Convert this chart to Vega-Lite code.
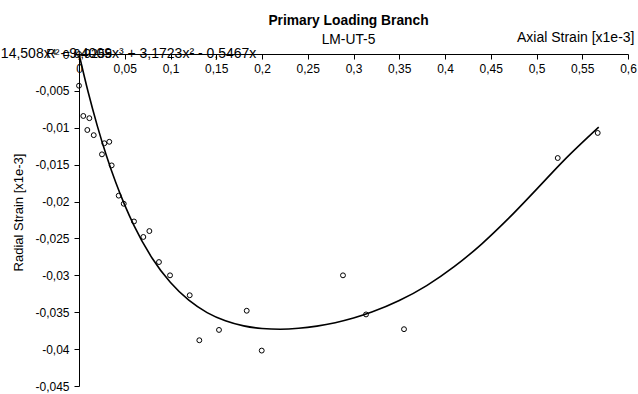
{
  "$schema": "https://vega.github.io/schema/vega-lite/v6.json",
  "width": 549,
  "height": 332,
  "autosize": {"type": "none"},
  "padding": {"left": 79, "top": 54, "right": 10, "bottom": 8},
  "background": "white",
  "title": {
    "text": "Primary Loading Branch",
    "subtitle": "LM-UT-5",
    "anchor": "middle",
    "frame": "group",
    "dx": -5,
    "offset": -17,
    "font": "Liberation Sans",
    "fontSize": 13.8,
    "fontWeight": "bold",
    "color": "black",
    "subtitleFont": "Liberation Sans",
    "subtitleFontSize": 13.8,
    "subtitleColor": "black",
    "subtitlePadding": 5
  },
  "config": {
    "locale": {
      "number": {
        "decimal": ",",
        "thousands": ".",
        "grouping": [3],
        "currency": ["", " €"],
        "minus": "-"
      }
    },
    "view": {"stroke": null},
    "axis": {
      "grid": false,
      "domainColor": "black",
      "domainWidth": 1,
      "tickColor": "black",
      "tickSize": 5,
      "tickWidth": 1,
      "labelColor": "black",
      "labelFont": "Liberation Sans",
      "labelFontSize": 12,
      "labelOverlap": false,
      "labelFlush": false,
      "titleColor": "black",
      "titleFont": "Liberation Sans",
      "titleFontSize": 14,
      "titleFontWeight": "normal"
    }
  },
  "datasets": {
    "measured": [
      {"axial": 0.0, "radial": 0.0},
      {"axial": 0.0, "radial": -0.0043},
      {"axial": 0.0047, "radial": -0.0084},
      {"axial": 0.0113, "radial": -0.0087},
      {"axial": 0.0091, "radial": -0.0103},
      {"axial": 0.0161, "radial": -0.011},
      {"axial": 0.0277, "radial": -0.0121},
      {"axial": 0.0331, "radial": -0.0119},
      {"axial": 0.0251, "radial": -0.0136},
      {"axial": 0.0357, "radial": -0.0151},
      {"axial": 0.0434, "radial": -0.0192},
      {"axial": 0.0489, "radial": -0.0203},
      {"axial": 0.0601, "radial": -0.0227},
      {"axial": 0.0703, "radial": -0.0248},
      {"axial": 0.0769, "radial": -0.024},
      {"axial": 0.0874, "radial": -0.0282},
      {"axial": 0.0995, "radial": -0.03},
      {"axial": 0.121, "radial": -0.0327},
      {"axial": 0.1315, "radial": -0.0388},
      {"axial": 0.153, "radial": -0.0374},
      {"axial": 0.1833, "radial": -0.0348},
      {"axial": 0.1997, "radial": -0.0402},
      {"axial": 0.2885, "radial": -0.03},
      {"axial": 0.3137, "radial": -0.0353},
      {"axial": 0.3552, "radial": -0.0373},
      {"axial": 0.5232, "radial": -0.0141},
      {"axial": 0.5669, "radial": -0.0107}
    ],
    "trendline": [
      {"axial": 0.0, "radial": 0.0},
      {"axial": 0.01, "radial": -0.00516},
      {"axial": 0.02, "radial": -0.00974},
      {"axial": 0.03, "radial": -0.01379},
      {"axial": 0.04, "radial": -0.01736},
      {"axial": 0.05, "radial": -0.02049},
      {"axial": 0.06, "radial": -0.02323},
      {"axial": 0.08, "radial": -0.02768},
      {"axial": 0.1, "radial": -0.03098},
      {"axial": 0.12, "radial": -0.03337},
      {"axial": 0.14, "radial": -0.03505},
      {"axial": 0.16, "radial": -0.03616},
      {"axial": 0.18, "radial": -0.03685},
      {"axial": 0.2, "radial": -0.0372},
      {"axial": 0.22, "radial": -0.0373},
      {"axial": 0.24, "radial": -0.03718},
      {"axial": 0.26, "radial": -0.03688},
      {"axial": 0.28, "radial": -0.03642},
      {"axial": 0.3, "radial": -0.03579},
      {"axial": 0.32, "radial": -0.03498},
      {"axial": 0.35, "radial": -0.03342},
      {"axial": 0.38, "radial": -0.03139},
      {"axial": 0.41, "radial": -0.02883},
      {"axial": 0.44, "radial": -0.02576},
      {"axial": 0.47, "radial": -0.02222},
      {"axial": 0.5, "radial": -0.01835},
      {"axial": 0.53, "radial": -0.01442},
      {"axial": 0.568, "radial": -0.00992}
    ],
    "fit": [
      {"equation": "y = -8,6308x⁵ + 14,508x⁴ - 9,4009x³ + 3,1723x² - 0,5467x", "r2": "R² = 0,9255"}
    ]
  },
  "encoding": {
    "x": {
      "field": "axial",
      "type": "quantitative",
      "scale": {"domain": [0, 0.6], "nice": false, "zero": false},
      "axis": {
        "orient": "bottom",
        "offset": -332,
        "values": [0, 0.05, 0.1, 0.15, 0.2, 0.25, 0.3, 0.35, 0.4, 0.45, 0.5, 0.55, 0.6],
        "format": "~g",
        "labelPadding": 4,
        "title": "Axial Strain [x1e-3]",
        "titleX": 555,
        "titleY": -13,
        "titleAlign": "right",
        "titleBaseline": "alphabetic",
        "titleAngle": 0
      }
    },
    "y": {
      "field": "radial",
      "type": "quantitative",
      "scale": {"domain": [-0.045, 0], "nice": false, "zero": false},
      "axis": {
        "values": [0, -0.005, -0.01, -0.015, -0.02, -0.025, -0.03, -0.035, -0.04, -0.045],
        "format": "~g",
        "labelPadding": 5,
        "title": "Radial Strain [x1e-3]",
        "titleFontSize": 13,
        "titleX": -61,
        "titleY": 158,
        "titleAngle": -90,
        "titleAlign": "center",
        "titleBaseline": "middle"
      }
    }
  },
  "layer": [
    {
      "data": {"name": "trendline"},
      "mark": {"type": "line", "color": "black", "strokeWidth": 1.6, "interpolate": "monotone"}
    },
    {
      "data": {"name": "measured"},
      "mark": {
        "type": "point",
        "shape": "circle",
        "filled": false,
        "color": "black",
        "size": 24,
        "strokeWidth": 1,
        "opacity": 1
      }
    },
    {
      "data": {"name": "fit"},
      "mark": {
        "type": "text",
        "invalid": null,
        "align": "center",
        "baseline": "middle",
        "font": "Liberation Sans",
        "fontSize": 14,
        "color": "black"
      },
      "encoding": {
        "text": {"field": "equation"},
        "x": {"datum": 0.412},
        "y": {"datum": -0.04}
      }
    },
    {
      "data": {"name": "fit"},
      "mark": {
        "type": "text",
        "invalid": null,
        "align": "center",
        "baseline": "middle",
        "font": "Liberation Sans",
        "fontSize": 12.5,
        "color": "black"
      },
      "encoding": {
        "text": {"field": "r2"},
        "x": {"datum": 0.415},
        "y": {"datum": -0.0419}
      }
    }
  ]
}
